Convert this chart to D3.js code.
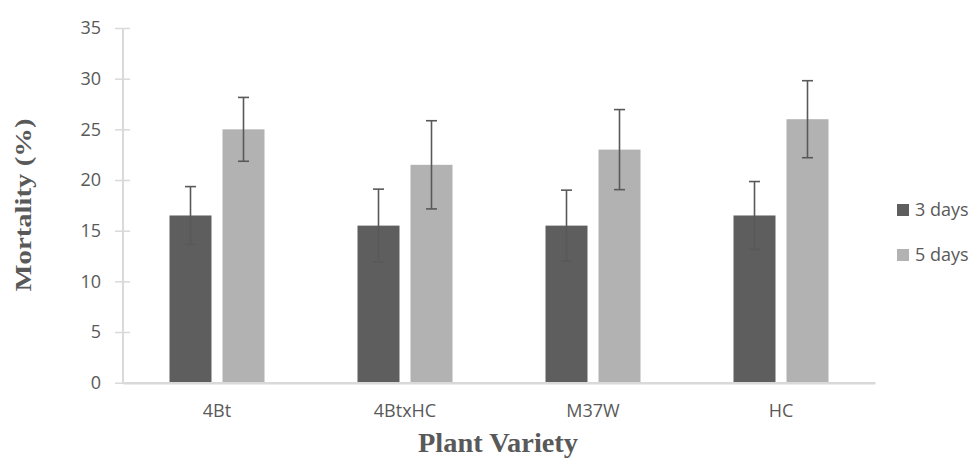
<!DOCTYPE html>
<html>
<head>
<meta charset="utf-8">
<script src="https://cdn.jsdelivr.net/npm/d3@7"></script>
<style>
  html, body { margin: 0; padding: 0; background: #fff; }
  svg { display: block; }
</style>
</head>
<body>
<svg id="chart" width="978" height="465"></svg>
<script>
const categories = ["4Bt", "4BtxHC", "M37W", "HC"];
const seriesNames = ["3 days", "5 days"];
const values3 = [16.5, 15.5, 15.5, 16.5];
const values5 = [25, 21.5, 23, 26];
const errors3 = [2.85, 3.6, 3.5, 3.35];
const errors5 = [3.15, 4.35, 3.95, 3.8];
const yTicks = [0, 5, 10, 15, 20, 25, 30, 35];
const colors = ["#5e5e5e", "#b2b2b2"];

const seriesValues = [values3, values5];
const seriesErrors = [errors3, errors5];

const svg = d3.select("#chart");
const plotLeft = 123, plotRight = 875, plotTop = 28, plotBottom = 382.7;

const x0 = d3.scaleBand().domain(categories).range([plotLeft, plotRight]).paddingInner(0).paddingOuter(0);
const pairWidth = 95;
const x1 = d3.scaleBand().domain(seriesNames).range([0, pairWidth]).paddingInner(11 / 53).paddingOuter(0);
const y = d3.scaleLinear().domain([0, 35]).range([plotBottom, plotTop]);

const textColor = "#595959";
const axisColor = "#d9d9d9";
const labelFont = "'Open Sans', sans-serif";

// Y axis
const yAxis = svg.append("g")
  .attr("transform", `translate(${plotLeft},0)`)
  .call(d3.axisLeft(y).tickValues(yTicks).tickSize(8).tickPadding(14).tickFormat(d3.format("d")));
yAxis.select(".domain").remove();
yAxis.selectAll(".tick line").attr("x1", 7).attr("stroke", axisColor).attr("stroke-width", 1.5);
yAxis.selectAll(".tick text")
  .attr("fill", textColor)
  .style("font-family", labelFont)
  .style("font-size", "18px");
svg.append("line")
  .attr("x1", plotLeft).attr("x2", plotLeft)
  .attr("y1", y(35)).attr("y2", y(0))
  .attr("stroke", axisColor).attr("stroke-width", 2);

// Bars
const groups = svg.append("g").selectAll("g")
  .data(categories)
  .join("g")
  .attr("transform", d => `translate(${x0(d) + (x0.bandwidth() - pairWidth) / 2},0)`);

seriesNames.forEach((s, si) => {
  groups.append("rect")
    .attr("x", x1(s))
    .attr("width", x1.bandwidth())
    .attr("y", (d, i) => y(seriesValues[si][i]))
    .attr("height", (d, i) => y(0) - y(seriesValues[si][i]))
    .attr("fill", colors[si]);
});

// X axis
const xAxis = svg.append("g")
  .attr("transform", `translate(0,${plotBottom})`)
  .call(d3.axisBottom(x0).tickSize(0).tickPadding(22));
xAxis.select(".domain").attr("stroke", axisColor).attr("stroke-width", 2.5);
xAxis.selectAll(".tick text")
  .attr("fill", textColor)
  .style("font-family", labelFont)
  .style("font-size", "18px");

// Error bars
const capW = 11;
seriesNames.forEach((s, si) => {
  const eg = groups.append("g")
    .attr("stroke", "#595959").attr("stroke-width", 1.6).attr("fill", "none");
  const cx = x1(s) + x1.bandwidth() / 2;
  eg.append("line")
    .attr("x1", cx).attr("x2", cx)
    .attr("y1", (d, i) => y(seriesValues[si][i] + seriesErrors[si][i]))
    .attr("y2", (d, i) => y(seriesValues[si][i] - seriesErrors[si][i]));
  eg.append("line")
    .attr("x1", cx - capW / 2).attr("x2", cx + capW / 2)
    .attr("y1", (d, i) => y(seriesValues[si][i] + seriesErrors[si][i]))
    .attr("y2", (d, i) => y(seriesValues[si][i] + seriesErrors[si][i]));
  eg.append("line")
    .attr("x1", cx - capW / 2).attr("x2", cx + capW / 2)
    .attr("y1", (d, i) => y(seriesValues[si][i] - seriesErrors[si][i]))
    .attr("y2", (d, i) => y(seriesValues[si][i] - seriesErrors[si][i]));
});

// Legend
const legend = svg.append("g").attr("transform", "translate(897,0)");
const legendY = [210, 255];
seriesNames.forEach((s, si) => {
  legend.append("rect")
    .attr("x", 0).attr("y", legendY[si] - 6)
    .attr("width", 12).attr("height", 12)
    .attr("fill", colors[si]);
  legend.append("text")
    .attr("x", 18).attr("y", legendY[si])
    .attr("dy", "0.35em")
    .attr("fill", textColor)
    .style("font-family", labelFont)
    .style("font-size", "18px")
    .text(s);
});

// Axis titles
svg.append("text")
  .attr("transform", "translate(31,205) rotate(-90)")
  .attr("text-anchor", "middle")
  .attr("fill", textColor)
  .style("font-family", "'Liberation Serif', 'Times New Roman', serif")
  .style("font-weight", "bold")
  .style("font-size", "23px")
  .attr("textLength", 173)
  .attr("lengthAdjust", "spacingAndGlyphs")
  .text("Mortality (%)");

svg.append("text")
  .attr("x", 498).attr("y", 452)
  .attr("text-anchor", "middle")
  .attr("fill", textColor)
  .style("font-family", "'Liberation Serif', 'Times New Roman', serif")
  .style("font-weight", "bold")
  .style("font-size", "27px")
  .attr("textLength", 160)
  .attr("lengthAdjust", "spacingAndGlyphs")
  .text("Plant Variety");
</script>
</body>
</html>
